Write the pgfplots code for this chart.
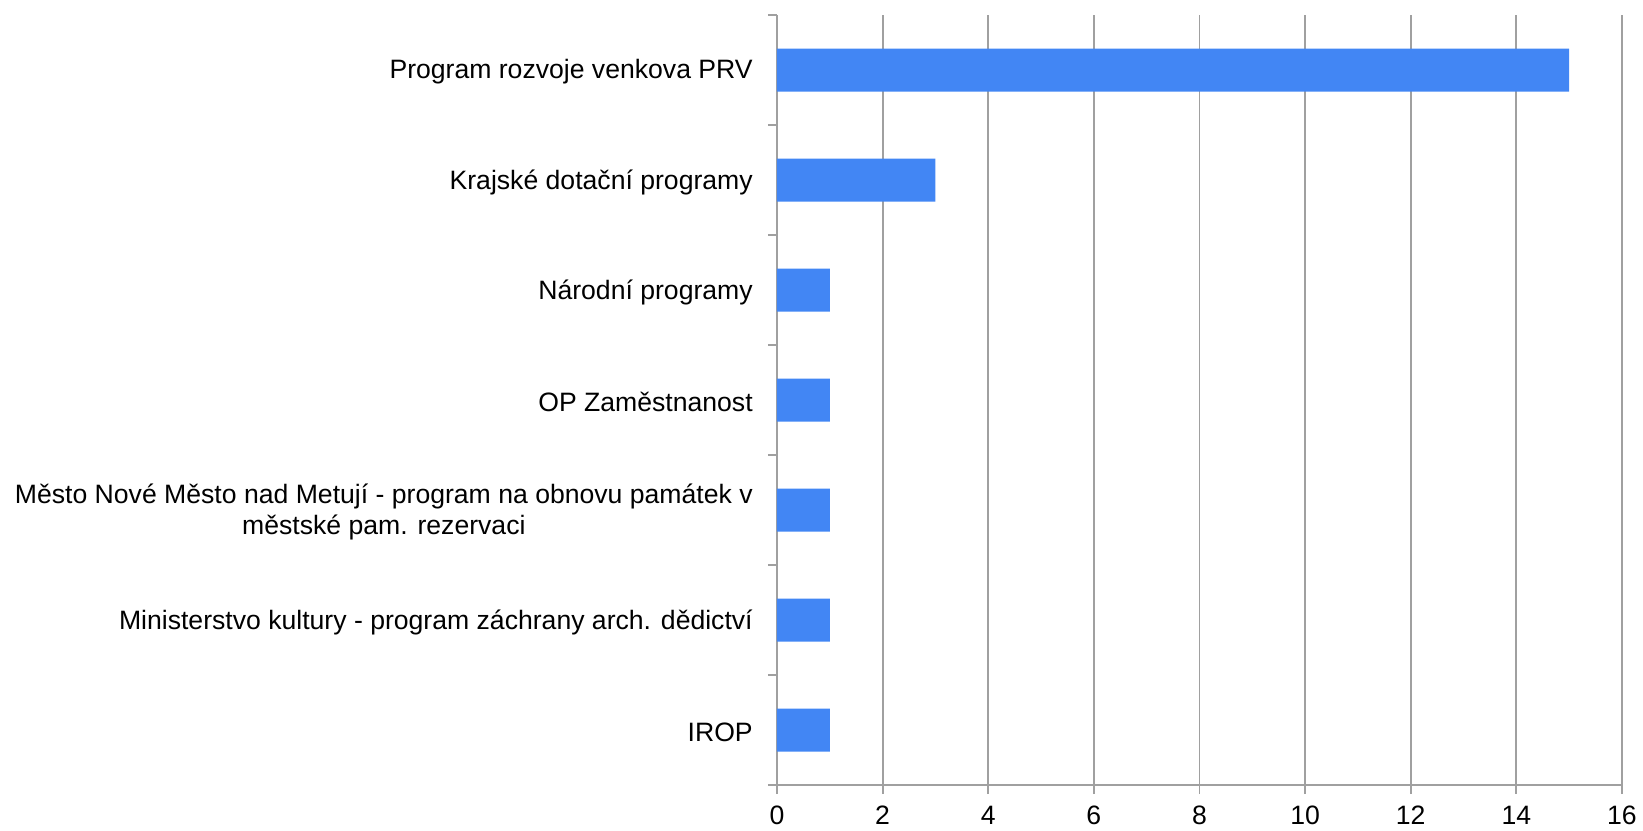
\documentclass[border=0pt]{standalone}
\usepackage{fontspec}
\setmainfont{Liberation Sans}
\usepackage{pgfplots}
\pgfplotsset{compat=1.18}
\definecolor{barblue}{RGB}{66,134,244}
\definecolor{gridgray}{RGB}{160,160,160}
\begin{document}
\fontsize{13.3pt}{15.5pt}\selectfont
\begin{tikzpicture}
\path[use as bounding box] (-388.5pt,-22.5pt) rectangle (433pt,392.5pt);
\begin{axis}[
  at={(0,0)}, anchor=south west,
  scale only axis, width=422.5pt, height=385pt,
  xbar, bar width=21.5pt,
  xmin=0, xmax=16, xtick={0,2,...,16},
  ymin=-0.5, ymax=6.5,
  ytick={0,...,6},
  yticklabels={IROP,{Ministerstvo kultury - program záchrany arch. dědictví},{Město Nové Město nad Metují - program na obnovu památek v\\městské pam. rezervaci},OP Zaměstnanost,Národní programy,Krajské dotační programy,Program rozvoje venkova PRV},
  minor ytick={-0.5,0.5,...,6.5},
  every major y tick/.style={draw=none},
  every minor y tick/.style={draw=gridgray, line width=0.9pt},
  minor tick length=4.5pt,
  major tick length=4.5pt,
  tick align=outside,
  every major x tick/.style={draw=gridgray, line width=0.9pt},
  yticklabel style={align=center, font=\fontsize{13.3pt}{15.5pt}\selectfont, xshift=-3pt, yshift=-1pt},
  xticklabel style={font=\fontsize{13.3pt}{15.5pt}\selectfont, yshift=-1.5pt},
  /pgf/number format/assume math mode=true,
  xmajorgrids, major grid style={draw=gridgray, line width=0.9pt},
  axis x line*=bottom, axis y line*=left,
  axis line style={draw=gridgray, line width=0.9pt, -},
  separate axis lines,
  clip=false,
]
\addplot[fill=barblue, draw=none] coordinates {
(1,0) (1,1) (1,2) (1,3) (1,4) (3,5) (15,6)
};
\end{axis}
\end{tikzpicture}
\end{document}
